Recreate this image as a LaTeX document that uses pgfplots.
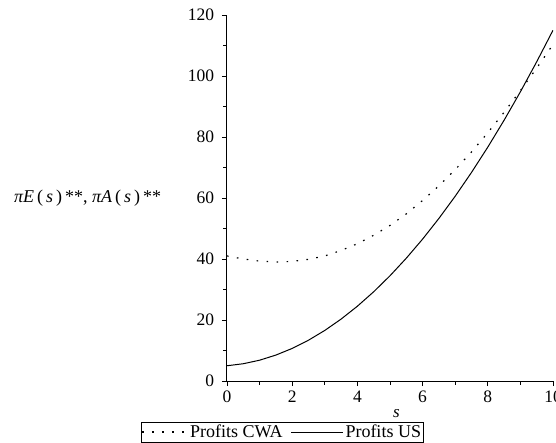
\documentclass[border=0pt]{standalone}
\usepackage{fontspec}
\setmainfont{Liberation Serif}
\usepackage{pgfplots}
\pgfplotsset{compat=1.18}
\pgfplotsset{
 longleg/.style={legend image code/.code={\draw[##1] (0bp,0bp) -- (45bp,0bp);}},
 shortleg/.style={legend image code/.code={\draw[##1] (0bp,0bp) -- (52bp,0bp);}},
}
\begin{document}
\fontsize{17bp}{20bp}\selectfont
\begin{tikzpicture}
\useasboundingbox (-227bp,-62bp) rectangle (329bp,381bp);
\begin{axis}[name=ax, anchor=south west, at={(0,0)},
 width=326bp, height=366bp, scale only axis,
 xmin=0, xmax=10, ymin=0, ymax=120,
 axis lines=left, axis line style={-, line width=1bp},
 xtick={0,2,...,10}, ytick={0,20,...,120}, minor tick num=1,
 tick align=outside, major tick length=5bp, minor tick length=3.5bp,
 tick style={black, line width=0.9bp},
 /pgf/number format/assume math mode=true,
 ticklabel style={font=\fontsize{17.5bp}{20bp}\selectfont},
 yticklabel style={xshift=-2bp},
 xticklabel style={yshift=1bp},
 xlabel={\textit{s}},
 xlabel style={at={(axis description cs:0.52,0)}, anchor=center, yshift=-33bp, font=\fontsize{17bp}{20bp}\selectfont},
 ylabel={\textit{πE}\,(\,\textit{s}\,)\,**, \textit{πA}\,(\,\textit{s}\,)\,**},
 ylabel style={rotate=-90, at={(axis description cs:0,0.5)}, anchor=east, xshift=-60bp, yshift=0bp, font=\fontsize{18bp}{20bp}\selectfont},
 legend columns=2,
 legend style={at={(axis description cs:0.17,0)}, anchor=north, yshift=-40.5bp,
   draw=black, line width=0.9bp, inner sep=0.5bp, font=\fontsize{18bp}{19bp}\selectfont,
   /tikz/every even column/.append style={column sep=6bp}},
]
\addplot[black, line width=1.2bp, dash pattern=on 1.6bp off 8.4bp, longleg]
 coordinates {
 (0,41.0) (0.5,40.0) (1,39.3) (1.5,39.0) (2,39.2) (2.5,39.9) (3,41.0) (3.5,42.8)
 (4,45.0) (4.5,47.8) (5,51.0) (5.5,54.8) (6,59.2) (6.5,64.0) (7,69.3) (7.5,75.1)
 (8,81.4) (8.5,88.1) (9,95.2) (9.5,102.6) (10,110.3)
 };
\addlegendentry{Profits CWA}
\addplot[black, line width=1bp, shortleg]
 coordinates {
 (0,5.0) (0.5,5.66) (1,6.82) (1.5,8.50) (2,10.68) (2.5,13.38) (3,16.58) (3.5,20.30)
 (4,24.52) (4.5,29.26) (5,34.5) (5.5,40.26) (6,46.52) (6.5,53.30) (7,60.58) (7.5,68.38)
 (8,76.68) (8.5,85.50) (9,94.82) (9.5,104.66) (10,115.0)
 };
\addlegendentry{Profits US}
\end{axis}
\end{tikzpicture}
\end{document}
